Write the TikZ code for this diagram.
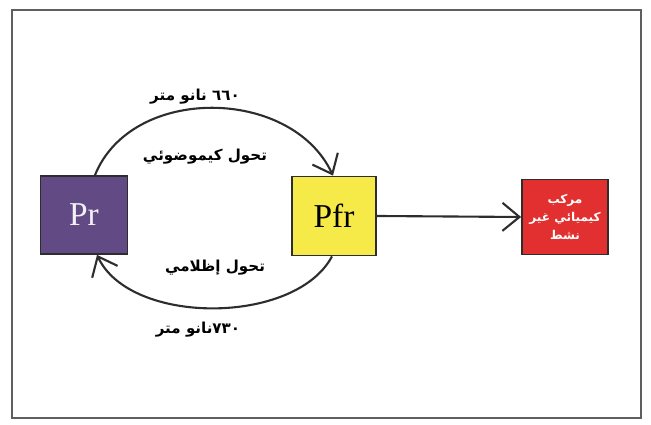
\documentclass[tikz,border=0pt]{standalone}
\usepackage{fontspec}
\setmainfont{Liberation Serif}
\newfontfamily\arabicfont[Script=Arabic]{DejaVu Sans}
\TeXXeTstate=1
\usetikzlibrary{arrows.meta,positioning}
\definecolor{frameGray}{RGB}{95,95,95}
\definecolor{lineDark}{RGB}{45,45,45}
\definecolor{prPurple}{RGB}{98,74,132}
\definecolor{pfrYellow}{RGB}{246,234,72}
\definecolor{inRed}{RGB}{226,48,48}

\begin{document}
\begin{tikzpicture}[
    pigment/.style={draw=lineDark, line width=1pt, minimum width=1.74cm, minimum height=1.56cm, inner sep=0pt},
    flow/.style={draw=lineDark, line width=1.2pt, -{Straight Barb[length=3.4mm,width=5.6mm,line width=1.2pt]}},
    arlabel/.style={font=\arabicfont\bfseries\fontsize{8.6}{10}\selectfont, text=black}
  ]
    \useasboundingbox (0,0) rectangle (13.02,8.5);
    % outer frame
    \draw[frameGray, line width=1.1pt] (0.24,0.14) rectangle (12.82,8.3);
    % the two phytochrome forms and the product
    \node[pigment, fill=prPurple, text=white!92!prPurple, font=\fontsize{19}{22}\selectfont] (pr) at (1.68,4.2) {Pr};
    \node[pigment, fill=pfrYellow, minimum width=1.68cm, minimum height=1.58cm, font=\fontsize{19}{22}\selectfont] (pfr) at (6.68,4.18) {Pfr};
    \node[pigment, fill=inRed, minimum width=1.72cm, minimum height=1.5cm, text=white, align=center,
          font=\arabicfont\bfseries\fontsize{6.9}{10}\selectfont] (inactive) at (11.3,4.16)
          {\beginR مركب\endR\\ \beginR كيميائي غير\endR\\ \beginR نشط\endR};
    % conversions
    \draw[flow] ([xshift=0.22cm]pr.north) to[out=68, in=115, looseness=1.05] ([xshift=-0.02cm]pfr.north);
    \draw[flow] ([xshift=-0.04cm]pfr.south) to[out=-118, in=-65, looseness=0.85] ([xshift=0.26cm]pr.south);
    \draw[flow] (pfr.east) -- (inactive.west);
    % labels
    \node[arlabel] (top660) at (3.9,6.56) {\beginR ٦٦٠ نانو متر\endR};
    \node[arlabel] (photo) at (4.1,5.36) {\beginR تحول كيموضوئي\endR};
    \node[arlabel] (dark) at (4.3,3.14) {\beginR تحول إظلامي\endR};
    \node[arlabel] (bot730) at (3.96,1.9) {\beginR ٧٣٠نانو متر\endR};
\end{tikzpicture}
\end{document}
